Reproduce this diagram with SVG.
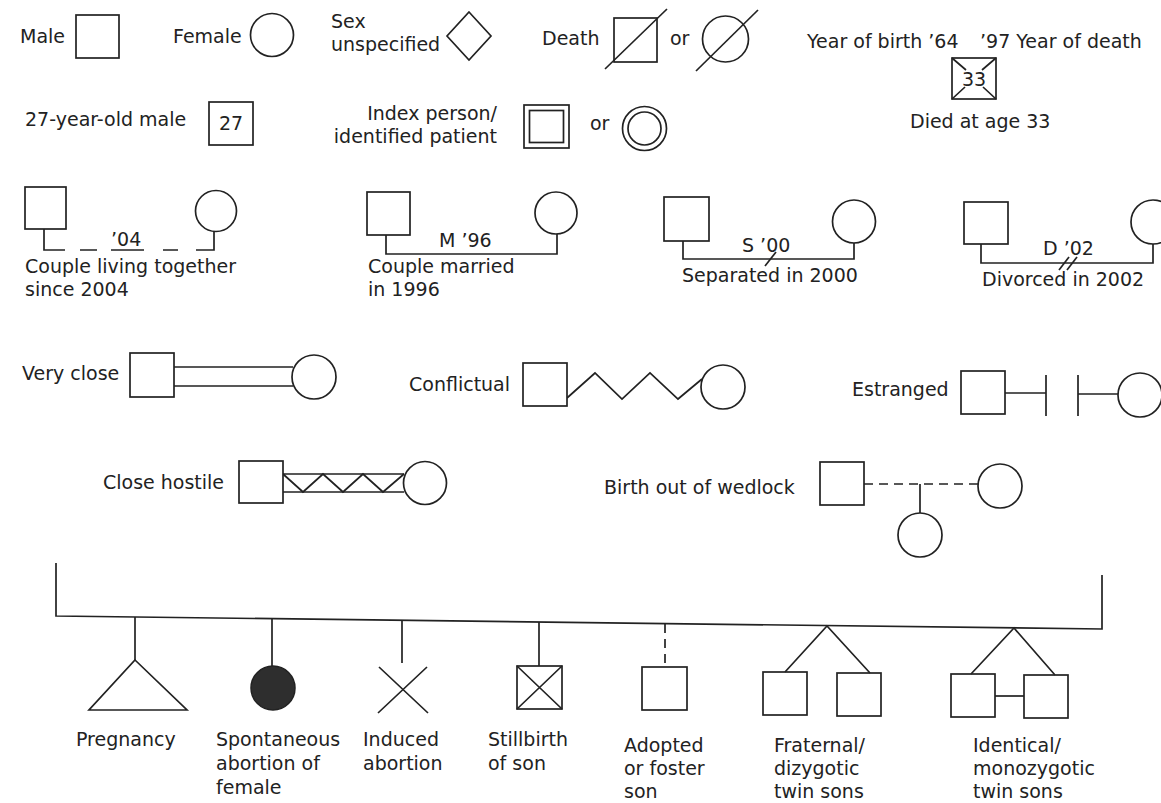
<svg xmlns="http://www.w3.org/2000/svg" width="1161" height="803" viewBox="0 0 1161 803">
<style>
.s{fill:none;stroke:#222;stroke-width:1.7}
.f{fill:#fff;stroke:#222;stroke-width:1.7}
.t{font-family:"DejaVu Sans","Open Sans",sans-serif;font-size:19px;fill:#222}
.m{text-anchor:middle}
.e{text-anchor:end}
.d{stroke-dasharray:9 6}
</style>
<rect width="1161" height="803" fill="#fff"/>

<!-- Row 1 -->
<g id="male"><text class="t" x="20" y="43">Male</text><rect class="s" x="76" y="15" width="43" height="43"/></g>
<g id="female"><text class="t" x="173" y="43">Female</text><circle class="s" cx="272" cy="35" r="21.5"/></g>
<g id="sex-unspecified"><text class="t" x="331" y="28">Sex</text><text class="t" x="331" y="51">unspecified</text><polygon class="s" points="469,12 491,36 469,60 447,36"/></g>
<g id="death"><text class="t" x="542" y="45">Death</text><rect class="s" x="614" y="18" width="43" height="44"/><line class="s" x1="605" y1="69" x2="667" y2="9"/>
<text class="t" x="670" y="45">or</text><circle class="s" cx="725.5" cy="39" r="23"/><line class="s" x1="696" y1="71" x2="758" y2="10"/></g>
<g id="died-at-age"><text class="t" x="807" y="48">Year of birth ’64</text><text class="t" x="980" y="48">’97 Year of death</text>
<rect class="s" x="952" y="58" width="44" height="41"/>
<path class="s" d="M952,58 L966,70 M996,58 L982,70 M952,99 L965,87 M996,99 L983,87"/>
<text class="t m" x="974" y="86">33</text>
<text class="t" x="910" y="128">Died at age 33</text></g>

<!-- Row 2 -->
<g id="age-male"><text class="t" x="25" y="126">27-year-old male</text><rect class="s" x="209" y="102" width="44" height="43"/><text class="t m" x="231" y="130">27</text></g>
<g id="index-person"><text class="t e" x="497" y="120">Index person/</text><text class="t e" x="497" y="143">identified patient</text>
<rect class="s" x="524" y="105" width="45" height="43"/><rect class="s" x="529.5" y="110.5" width="34" height="32"/>
<text class="t" x="590" y="130">or</text>
<circle class="s" cx="644.5" cy="128.5" r="22"/><circle class="s" cx="644.5" cy="128.5" r="16.5"/></g>

<!-- Connectors -->
<g id="connectors">
<path class="s" d="M44,229 V250 H65 M80,250 H97 M111,250 H144 M163,250 H178 M196,250 H214 V231"/>
<path class="s" d="M386,235 V254 H557 V234"/>
<path class="s" d="M683,241 V259 H854 V243"/>
<line class="s" x1="765" y1="266" x2="776" y2="252"/>
<path class="s" d="M981,244 V263 H1153 V244"/>
<line class="s" x1="1059" y1="270" x2="1069" y2="257"/>
<line class="s" x1="1067" y1="270" x2="1077" y2="257"/>
<path class="s" d="M174,367 H293 M174,386 H293"/>
<polyline class="s" points="567,398 595,373 622,399 650,373 678,399 702,379"/>
<path class="s" d="M1005,393 H1046 M1046,375 V416 M1078,375 V416 M1078,394 H1118"/>
<path class="s" d="M283,474 H404 M283,492 H404"/>
<polyline class="s" points="283,474 303,492 323,474 343,492 363,474 383,492 404,474"/>
<path class="s d" d="M864,484 H978"/>
<line class="s" x1="920" y1="484" x2="920" y2="513"/>
<path class="s" d="M56,563 V616 L1102,629 V575"/>
<line class="s" x1="135" y1="617" x2="135" y2="660"/>
<line class="s" x1="272" y1="618.7" x2="272" y2="666"/>
<line class="s" x1="402" y1="620.3" x2="402" y2="663"/>
<line class="s" x1="539" y1="622" x2="539" y2="666"/>
<line class="s d" x1="665" y1="624" x2="665" y2="667"/>
<polyline class="s" points="785,672 827,626 870,673"/>
<polyline class="s" points="971,674 1014,628 1055,675"/>
<line class="s" x1="995" y1="696" x2="1024" y2="696"/>
</g>

<!-- Row 3 couples -->
<g id="couple-living"><rect class="s" x="25" y="187" width="41" height="42"/><circle class="s" cx="216" cy="211" r="20.5"/>
<text class="t" x="111" y="246">’04</text>
<text class="t" x="25" y="273">Couple living together</text><text class="t" x="25" y="296">since 2004</text></g>
<g id="couple-married"><rect class="s" x="367" y="192" width="43" height="43"/><circle class="s" cx="556" cy="213" r="21"/>
<text class="t" x="439" y="247">M ’96</text>
<text class="t" x="368" y="273">Couple married</text><text class="t" x="368" y="296">in 1996</text></g>
<g id="couple-separated"><rect class="s" x="664" y="197" width="45" height="44"/><circle class="s" cx="854" cy="221.5" r="21.5"/>
<text class="t" x="742" y="252">S ’00</text>
<text class="t" x="682" y="282">Separated in 2000</text></g>
<g id="couple-divorced"><rect class="s" x="964" y="202" width="44" height="42"/><circle class="s" cx="1153" cy="222" r="22"/>
<text class="t" x="1043" y="255">D ’02</text>
<text class="t" x="982" y="286">Divorced in 2002</text></g>

<!-- Row 4 -->
<g id="very-close"><text class="t" x="22" y="380">Very close</text><rect class="f" x="130" y="353" width="44" height="44"/><circle class="f" cx="314" cy="377" r="22"/></g>
<g id="conflictual"><text class="t" x="409" y="391">Conflictual</text><rect class="f" x="523" y="363" width="44" height="43"/><circle class="f" cx="723" cy="387" r="22"/></g>
<g id="estranged"><text class="t" x="852" y="396">Estranged</text><rect class="f" x="961" y="371" width="44" height="43"/><circle class="f" cx="1140" cy="395" r="22"/></g>

<!-- Row 5 -->
<g id="close-hostile"><text class="t" x="103" y="489">Close hostile</text><rect class="f" x="239" y="461" width="44" height="42"/><circle class="f" cx="425" cy="483" r="21.5"/></g>
<g id="out-of-wedlock"><text class="t" x="604" y="494">Birth out of wedlock</text><rect class="f" x="820" y="462" width="44" height="43"/><circle class="f" cx="1000" cy="486" r="22"/><circle class="f" cx="920" cy="535" r="22"/></g>

<!-- Bottom row -->
<g id="pregnancy"><polygon class="s" points="135,660 187,710 89,710"/><text class="t" x="76" y="746">Pregnancy</text></g>
<g id="spontaneous-abortion"><circle cx="273" cy="688" r="22" fill="#2e2e2e" stroke="#222" stroke-width="1.5"/>
<text class="t" x="216" y="746">Spontaneous</text><text class="t" x="216" y="770">abortion of</text><text class="t" x="216" y="794">female</text></g>
<g id="induced-abortion"><path class="s" d="M379,667 L428,713 M427,667 L378,713"/>
<text class="t" x="363" y="746">Induced</text><text class="t" x="363" y="770">abortion</text></g>
<g id="stillbirth"><rect class="s" x="517" y="666" width="45" height="43"/><path class="s" d="M517,666 L562,709 M562,666 L517,709"/>
<text class="t" x="488" y="746">Stillbirth</text><text class="t" x="488" y="770">of son</text></g>
<g id="adopted"><rect class="s" x="642" y="667" width="45" height="43"/>
<text class="t" x="624" y="752">Adopted</text><text class="t" x="624" y="775">or foster</text><text class="t" x="624" y="798">son</text></g>
<g id="fraternal-twins"><rect class="s" x="763" y="672" width="44" height="43"/><rect class="s" x="837" y="673" width="44" height="43"/>
<text class="t" x="774" y="752">Fraternal/</text><text class="t" x="774" y="775">dizygotic</text><text class="t" x="774" y="798">twin sons</text></g>
<g id="identical-twins"><rect class="s" x="951" y="674" width="44" height="43"/><rect class="s" x="1024" y="675" width="44" height="43"/>
<text class="t" x="973" y="752">Identical/</text><text class="t" x="973" y="775">monozygotic</text><text class="t" x="973" y="798">twin sons</text></g>
</svg>
